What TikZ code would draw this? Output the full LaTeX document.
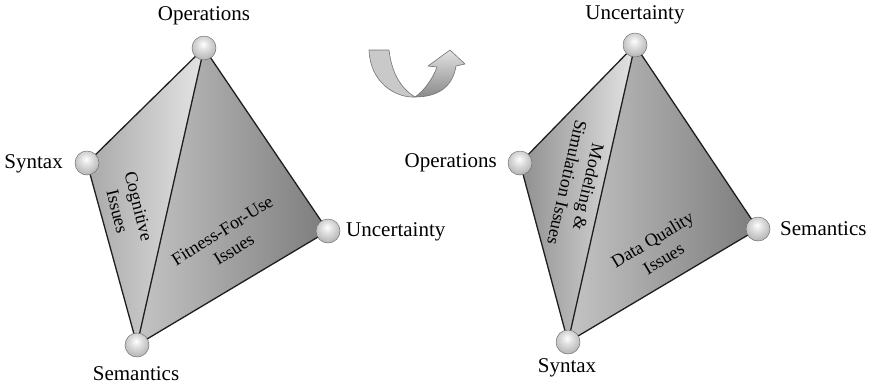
\documentclass[tikz,border=0pt]{standalone}
\usepackage{fontspec}
\setmainfont{Liberation Serif}
\pgfdeclareradialshading{vertexball}{\pgfpoint{-2bp}{8bp}}{%
  color(0bp)=(white); color(10bp)=(gray!22); color(28bp)=(gray!55);
  color(45bp)=(gray!85); color(50bp)=(gray!100); color(100bp)=(gray!100)}
\begin{document}
\begin{tikzpicture}[x=1pt,y=-1pt]
\useasboundingbox (0,0) rectangle (870,384);
\definecolor{fL1}{HTML}{A8A8A8}
\definecolor{fL2}{HTML}{E4E4E4}
\definecolor{fR1}{HTML}{C4C4C4}
\definecolor{fR2}{HTML}{7C7C7C}
\definecolor{arrL}{HTML}{C9C9C9}
\definecolor{arrD}{HTML}{8A8A8A}
\definecolor{arrH}{HTML}{E2E2E2}
\definecolor{edgec}{HTML}{1E1E1E}
\tikzset{
 edge/.style={line width=1.3pt, draw=edgec, line join=round},
 vball/.style={circle, minimum size=24pt, inner sep=0pt, shading=vertexball, draw=black!55, line width=0.5pt},
 lbl/.style={font=\fontsize{21}{24}\selectfont, inner sep=0pt},
 facetxt/.style={font=\fontsize{18}{22}\selectfont, align=center, inner sep=0pt},
 arrout/.style={draw=black!55, line width=0.6pt, line join=round},
}
% ---------- left tetrahedron ----------
\coordinate (LO) at (204,48);
\coordinate (LS) at (87,163);
\coordinate (LU) at (328,231);
\coordinate (LM) at (137,345);
\shade[left color=fL1, right color=fL2] (LS) -- (LO) -- (LM) -- cycle;
\shade[left color=fR1, right color=fR2] (LO) -- (LU) -- (LM) -- cycle;
\draw[edge] (LO) -- (LS) -- (LM) -- (LU) -- cycle;
\draw[edge] (LO) -- (LM);
\node[vball] (lo) at (LO) {};
\node[vball] (ls) at (LS) {};
\node[vball] (lu) at (LU) {};
\node[vball] (lm) at (LM) {};
\node[lbl] (tlo) at (204,16) {Operations};
\node[lbl, anchor=east] (tls) at (63,164) {Syntax};
\node[lbl, anchor=west] (tlu) at (346,232) {Uncertainty};
\node[lbl] (tlm) at (136,374) {Semantics};
\node[facetxt, rotate=-76] (tcog) at (128,209) {Cognitive\\Issues};
\node[facetxt, rotate=32] (tfit) at (228,240) {Fitness-For-Use\\Issues};
% ---------- arrow ----------
\filldraw[arrout, fill=arrL] (369,50) -- (389,50) .. controls (392,75) and (402,89) .. (415,97)
   .. controls (395,98) and (370,82) .. (369,50) -- cycle;
\shade[bottom color=arrD, top color=arrH] (415,97) .. controls (425,90) and (433,78) .. (437,67)
   -- (428,66) -- (450,50) -- (465,64) -- (456,66) .. controls (453,85) and (440,97) .. (415,97) -- cycle;
\draw[arrout] (415,97) .. controls (425,90) and (433,78) .. (437,67)
   -- (428,66) -- (450,50) -- (465,64) -- (456,66) .. controls (453,85) and (440,97) .. (415,97) -- cycle;
% ---------- right tetrahedron ----------
\coordinate (RU) at (635,45);
\coordinate (RO) at (520,163);
\coordinate (RM) at (758,229);
\coordinate (RS) at (568,342);
\shade[left color=fL1!85!black, right color=fL2] (RO) -- (RU) -- (RS) -- cycle;
\shade[left color=fR1, right color=fR2] (RU) -- (RM) -- (RS) -- cycle;
\draw[edge] (RU) -- (RO) -- (RS) -- (RM) -- cycle;
\draw[edge] (RU) -- (RS);
\node[vball] (ru) at (RU) {};
\node[vball] (ro) at (RO) {};
\node[vball] (rm) at (RM) {};
\node[vball] (rs) at (RS) {};
\node[lbl] (tru) at (635,15) {Uncertainty};
\node[lbl, anchor=east] (tro) at (497,163) {Operations};
\node[lbl, anchor=west] (trm) at (780,229) {Semantics};
\node[lbl] (trs) at (567,368) {Syntax};
\node[facetxt, rotate=-103] (tmod) at (578,185) {Modeling \&\\Simulation Issues};
\node[facetxt, rotate=31] (tdq) at (658,249) {Data Quality\\Issues};
\end{tikzpicture}
\end{document}
